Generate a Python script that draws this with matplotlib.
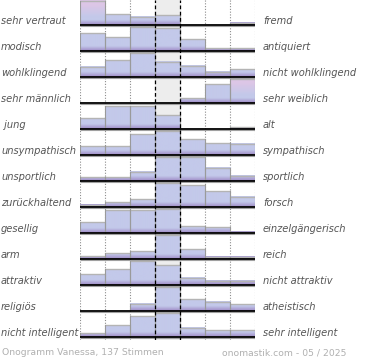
import numpy as np
import matplotlib
matplotlib.use("Agg")
import matplotlib.pyplot as plt
from matplotlib.colors import to_rgb
from matplotlib.patches import Rectangle
import matplotlib.transforms as mtransforms

# ---------------- data ----------------
left_labels = ["sehr vertraut", "modisch", "wohlklingend", "sehr männlich", " jung",
               "unsympathisch", "unsportlich", "zurückhaltend", "gesellig", "arm",
               "attraktiv", "religiös", "nicht intelligent"]
right_labels = ["fremd", "antiquiert", "nicht wohlklingend", "sehr weiblich", "alt",
                "sympathisch", "sportlich", "forsch", "einzelgängerisch", "reich",
                "nicht attraktiv", "atheistisch", "sehr intelligent"]
ratings = [
    [60, 11, 8.5, 10, 0, 0, 2.5],
    [18, 14, 24, 22.7, 12, 3, 3],
    [10.3, 17, 24.5, 15.5, 11.3, 5.3, 8],
    [0, 0, 0, 0, 5, 19, 72],
    [10.7, 23, 23, 14, 0, 0, 2],
    [9, 9, 21, 24.5, 16, 12, 11.5],
    [3.7, 3.7, 9.3, 24.3, 24.5, 13.3, 5.3],
    [2.3, 5, 8, 24.5, 22, 16, 10.5],
    [11, 23, 23, 24, 6.7, 6, 1.5],
    [3, 5.7, 8, 24, 10, 2.3, 2.3],
    [10.7, 15.7, 24.3, 20, 7.3, 4.3, 4.3],
    [0, 0, 7.3, 24, 11.7, 9.3, 6.7],
    [4, 11.7, 20.7, 24, 9.3, 6.7, 6.7],
]
footer_left = "Onogramm Vanessa, 137 Stimmen"
footer_right = "onomastik.com - 05 / 2025"

# ---------------- layout ----------------
W, H = 370, 360
ROW = 26.0
CAP = 24.5
n_rows = len(ratings)
n_cols = len(ratings[0])

fig = plt.figure(figsize=(W / 100, H / 100), dpi=100)
ax = fig.add_axes([80 / W, 20 / H, 175 / W, 340 / H])
ax.set_xlim(0, n_cols)
ax.set_ylim(-(n_rows - 1) * ROW - 3, 25)
ax.axis("off")

# middle column background
ax.axvspan(3, 4, color="#ededed", zorder=0)
# dotted grid lines
for xv in [0, 1, 2, 5, 6, 7]:
    ax.axvline(xv, color="#8c8c8c", lw=0.8, ls=(0, (1, 1.5)), zorder=1)

purple = np.array(to_rgb("#a595cc"))
lav = np.array(to_rgb("#c3c9ea"))
pink = np.array(to_rgb("#ddc6e6"))


def grad_img(h, capped):
    n = max(int(np.ceil(h * 4)), 2)
    t = np.linspace(0, h, n)
    img = np.zeros((n, 1, 3))
    for i, tt in enumerate(t):
        a = np.clip((tt - 1.0) / 4.0, 0, 1)
        c = purple * (1 - a) + lav * a
        if capped:
            b = np.clip((tt - 8) / 12.0, 0, 1)
            c = c * (1 - b) + pink * b
        img[i, 0] = c
    return img[::-1]


for r, vals in enumerate(ratings):
    base = -r * ROW
    for c, v in enumerate(vals):
        if v <= 0:
            continue
        h = min(v, CAP)
        capped = v > CAP
        ax.imshow(grad_img(h, capped), extent=[c, c + 1, base, base + h],
                  aspect="auto", interpolation="bilinear", zorder=2)
        ax.plot([c, c + 1], [base + h, base + h], color="#b4b4b4", lw=1.0,
                zorder=3, solid_capstyle="butt")
        ax.plot([c, c], [base, base + h], color="#9a9a9a", lw=0.8, zorder=3)
        ax.plot([c + 1, c + 1], [base, base + h], color="#9a9a9a", lw=0.8, zorder=3)
    # baseline
    ax.plot([0, n_cols], [base - 1.3, base - 1.3], color="#a0a0a0", lw=0.8, zorder=4,
            solid_capstyle="butt")
    ax.plot([0, n_cols], [base, base], color="black", lw=1.3, zorder=5,
            solid_capstyle="butt")

ax.set_xlim(0, n_cols)
ax.set_ylim(-(n_rows - 1) * ROW - 3, 25)

# dashed lines around the middle column
for xv in [3, 4]:
    ax.axvline(xv, color="black", lw=0.9, ls=(0, (3, 2)), zorder=6)

# labels
trans = mtransforms.blended_transform_factory(fig.transFigure, ax.transData)
for r in range(n_rows):
    base = -r * ROW
    ax.text(1 / W, base + 0.8, left_labels[r], transform=trans, ha="left",
            va="baseline", fontsize=7.1, style="italic", color="#555555")
    ax.text(263 / W, base + 0.8, right_labels[r], transform=trans, ha="left",
            va="baseline", fontsize=7.1, style="italic", color="#555555")

fig.text(1.5 / W, 1 - 355 / H, footer_left, ha="left", va="baseline",
         fontsize=6.7, color="#b0b0b0")
fig.text(346 / W, 1 - 355 / H, footer_right, ha="right", va="baseline",
         fontsize=6.7, color="#b0b0b0")

fig.savefig("out.png", dpi=100)
